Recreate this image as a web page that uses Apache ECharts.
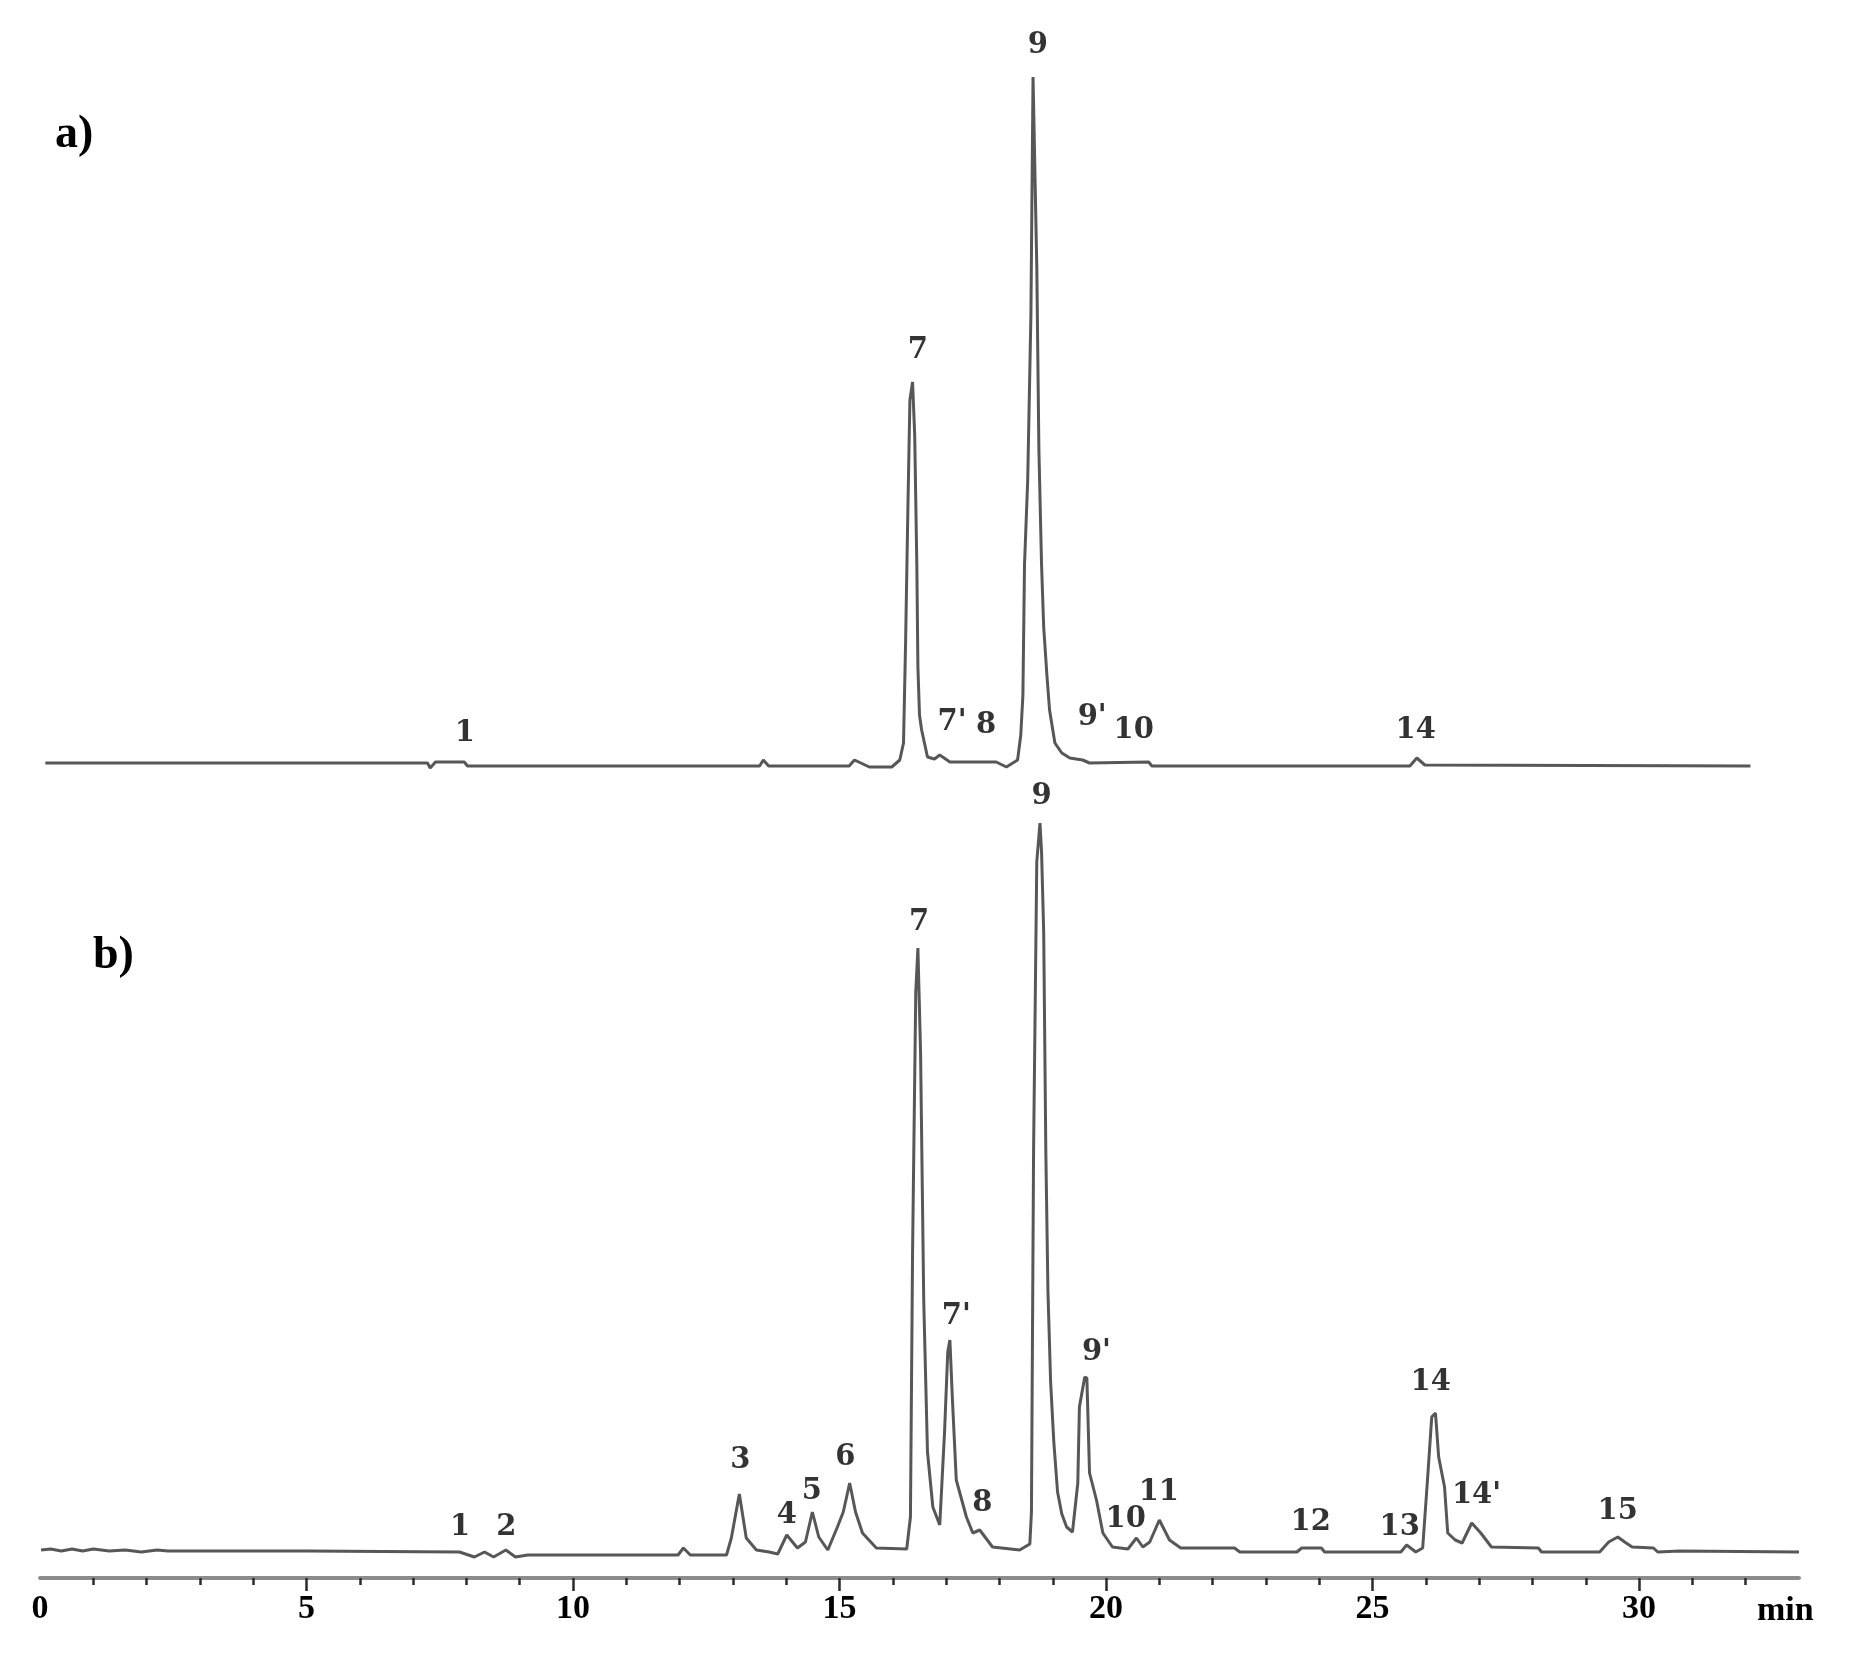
<!DOCTYPE html>
<html>
<head>
<meta charset="utf-8">
<script src="https://cdn.jsdelivr.net/npm/echarts@6/dist/echarts.min.js"></script>
<style>
html,body{margin:0;padding:0;background:#fff;}
#chart{width:1867px;height:1678px;}
</style>
</head>
<body>
<div id="chart"></div>
<script>
// ---------- DATA ----------
// Chromatogram a) : retention time (min) and detector signal (arbitrary units above baseline)
const aTime = [0.10,7.27,7.32,7.42,7.96,8.02,13.50,13.57,13.67,15.18,15.28,15.56,15.98,16.13,16.20,16.24,16.28,16.32,16.37,16.41,16.45,16.47,16.50,16.54,16.65,16.78,16.88,17.07,17.94,18.13,18.34,18.40,18.44,18.47,18.53,18.59,18.63,18.66,18.70,18.74,18.79,18.83,18.89,18.94,19.04,19.17,19.32,19.56,19.69,20.80,20.86,25.70,25.83,25.98,32.09];
const aSignal = [2,2,-3,3,3,-1,-1,5,-1,-1,5,-2,-2,5,22,125,250,365,383,330,200,98,50,35,8,6,10,3,3,-2,5,30,70,200,285,450,688,688,500,315,200,138,90,55,22,12,7,5,2,3,-1,-1,7,0,-1];

// Chromatogram b)
const bTime = [0.02,0.2,0.4,0.6,0.8,1.0,1.3,1.6,1.9,2.2,2.4,5.0,7.87,8.15,8.34,8.51,8.74,8.92,9.15,11.97,12.07,12.20,12.88,12.97,13.12,13.25,13.44,13.68,13.84,14.01,14.21,14.36,14.49,14.61,14.78,14.96,15.07,15.19,15.30,15.43,15.69,16.26,16.33,16.37,16.43,16.47,16.52,16.58,16.65,16.75,16.88,16.97,17.03,17.07,17.12,17.19,17.38,17.50,17.63,17.87,18.38,18.57,18.60,18.64,18.70,18.76,18.79,18.83,18.87,18.91,18.96,19.02,19.09,19.17,19.26,19.37,19.47,19.50,19.60,19.64,19.69,19.82,19.94,20.12,20.41,20.57,20.69,20.82,21.00,21.19,21.40,22.41,22.51,23.58,23.67,24.04,24.10,25.53,25.64,25.81,25.94,26.03,26.11,26.18,26.24,26.35,26.41,26.55,26.68,26.86,27.03,27.23,28.11,28.17,29.26,29.43,29.60,29.73,29.87,30.27,30.35,30.76,33.0];
const bSignal = [2,3,1,3,1,3,1,2,0,2,1,1,0,-5,0,-5,2,-5,-3,-3,4,-3,-3,14,58,14,2,0,-2,17,4,10,40,15,2,25,40,69,40,19,4,3,35,300,560,604,500,250,100,45,27,120,200,212,150,72,35,19,22,5,2,8,40,400,690,729,700,620,400,260,170,110,60,38,25,20,69,145,175,174,79,52,19,5,3,14,5,10,32,12,4,4,0,0,4,4,0,0,7,0,4,72,135,139,95,65,19,12,9,29,19,5,4,0,0,10,15,10,5,4,0,1,0];

// Peak labels: name, retention time and height at which each label sits
const aLabelNames = ['1','7',"7'",'8','9',"9'",'10','14'];
const aLabelTime  = [7.97,16.47,17.11,17.75,18.72,19.74,20.52,25.81];
const aLabelHeight= [32,415,43,40,720,48,35,35];

const bLabelNames = ['1','2','3','4','5','6','7',"7'",'8','9',"9'",'10','11','12','13','14',"14'",'15'];
const bLabelTime  = [7.88,8.75,13.14,14.01,14.48,15.11,16.49,17.19,17.68,18.79,19.82,20.37,20.99,23.84,25.51,26.09,26.95,29.60];
const bLabelHeight= [25,25,92,37,61,95,630,236,49,756,200,33,60,30,25,170,57,41];

// Axis ticks (minutes)
const majorTickLabels = [0,5,10,15,20,25,30];
const majorTicks = [5,10,15,20,25,30];
const minorTicks = [1,2,3,4,6,7,8,9,11,12,13,14,16,17,18,19,21,22,23,24,26,27,28,29,31,32];
const axisMin = 0, axisMax = 33;

// ---------- CHART ----------
const zip = (xs, ys) => xs.map((x, i) => [x, ys[i]]);
const lbl = (names, ts, hs) => names.map((n, i) => ({ value: [ts[i], hs[i]], name: n }));

const chart = echarts.init(document.getElementById('chart'), null, { renderer: 'canvas' });

const traceStyle = { color: '#575757', width: 3 };
const peakLabel = {
  show: true, position: 'inside', formatter: p => p.name,
  fontFamily: 'DejaVu Serif', fontWeight: 'bold', fontSize: 29, color: '#000'
};

chart.setOption({
  animation: false,
  backgroundColor: '#ffffff',
  grid: [
    { left: 40, right: 68, top: 20, bottom: 893 },
    { left: 40, right: 68, top: 780, bottom: 100 }
  ],
  xAxis: [
    { type: 'value', gridIndex: 0, min: axisMin, max: axisMax, show: false },
    {
      type: 'value', gridIndex: 1, min: axisMin, max: axisMax, position: 'bottom',
      axisLine: { show: true, onZero: false, lineStyle: { color: '#8c8c8c', width: 4 } },
      axisTick: { show: true, customValues: majorTicks, length: 13, inside: false, lineStyle: { color: '#2a2a2a', width: 2.5 } },
      axisLabel: { show: true, customValues: majorTickLabels, margin: 14, fontFamily: 'Liberation Serif', fontWeight: 'bold', fontSize: 34, color: '#000' },
      splitLine: { show: false }
    },
    {
      type: 'value', gridIndex: 1, min: axisMin, max: axisMax, position: 'bottom', offset: 0,
      axisLine: { show: false, onZero: false },
      axisTick: { show: true, customValues: minorTicks, length: 7, inside: false, lineStyle: { color: '#2a2a2a', width: 2.5 } },
      axisLabel: { show: false },
      splitLine: { show: false }
    }
  ],
  yAxis: [
    { type: 'value', gridIndex: 0, min: -20, max: 745, show: false },
    { type: 'value', gridIndex: 1, min: -26, max: 772, show: false }
  ],
  series: [
    { type: 'line', xAxisIndex: 0, yAxisIndex: 0, data: zip(aTime, aSignal), showSymbol: false, symbol: 'none', lineStyle: traceStyle, clip: false, z: 2 },
    { type: 'line', xAxisIndex: 1, yAxisIndex: 1, data: zip(bTime, bSignal), showSymbol: false, symbol: 'none', lineStyle: traceStyle, clip: false, z: 2 },
    { type: 'scatter', xAxisIndex: 0, yAxisIndex: 0, data: lbl(aLabelNames, aLabelTime, aLabelHeight), symbolSize: 1, itemStyle: { color: 'rgba(0,0,0,0)' }, label: peakLabel, z: 5 },
    { type: 'scatter', xAxisIndex: 1, yAxisIndex: 1, data: lbl(bLabelNames, bLabelTime, bLabelHeight), symbolSize: 1, itemStyle: { color: 'rgba(0,0,0,0)' }, label: peakLabel, z: 5 }
  ],
  graphic: [
    { type: 'text', left: 55, top: 112, style: { text: 'a)', font: 'bold 46px "Liberation Serif"', fill: '#000' } },
    { type: 'text', left: 93, top: 933, style: { text: 'b)', font: 'bold 46px "Liberation Serif"', fill: '#000' } },
    { type: 'text', left: 1757, top: 1594, style: { text: 'min', font: 'bold 34px "Liberation Serif"', fill: '#000' } }
  ]
});
</script>
</body>
</html>
